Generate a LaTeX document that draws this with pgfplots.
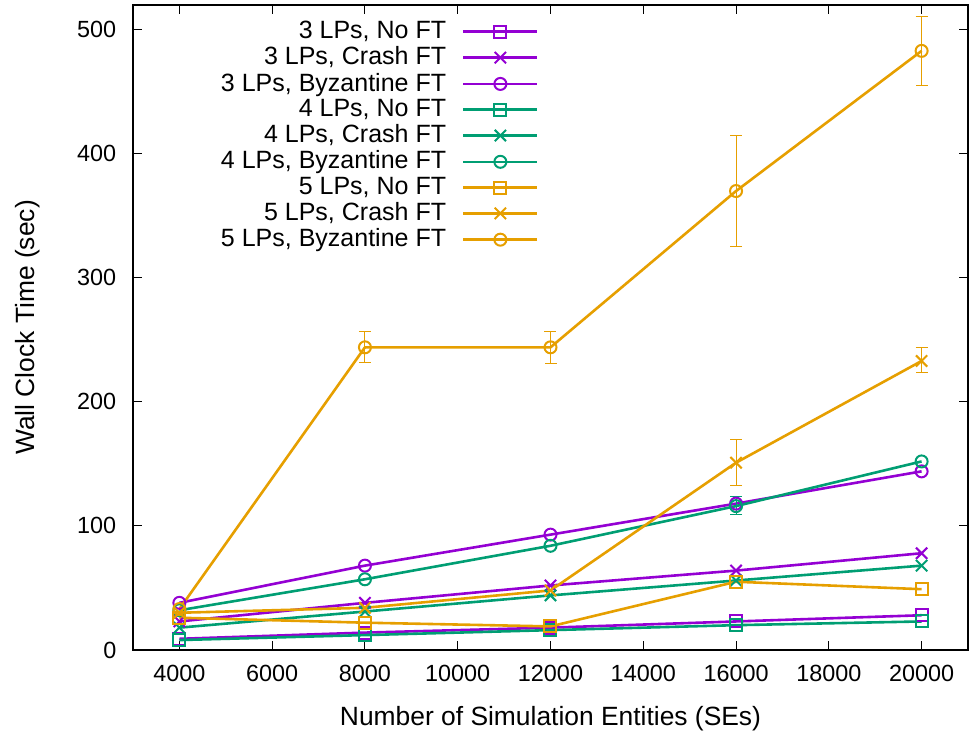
\documentclass[border=0pt]{standalone}
\usepackage{pgfplots}
\pgfplotsset{compat=1.18}
\usepackage{fontspec}
\setmainfont{Liberation Sans}
\definecolor{gpurple}{HTML}{9400D3}
\definecolor{ggreen}{HTML}{009E73}
\definecolor{gorange}{HTML}{E69F00}
\begin{document}
\fontsize{12.5}{15}\selectfont
\begin{tikzpicture}
\begin{axis}[
  scale only axis,
  width=417.5pt, height=322.5pt,
  xmin=3000, xmax=21000, ymin=0, ymax=520,
  xtick={4000,6000,...,20000},
  ytick={0,100,...,500},
  scaled x ticks=false,
  tick align=inside,
  xtick pos=both, ytick pos=both,
  major tick length=4.5pt,
  minor tick num=0,
  axis line style={line width=0.8pt},
  tick style={line width=0.5pt, black},
  /pgf/number format/1000 sep={},
  /pgf/number format/assume math mode=true,
  ticklabel style={font=\fontsize{11.7}{14}\selectfont},
  xticklabel style={yshift=-3pt},
  yticklabel style={xshift=-4pt},
  xlabel={Number of Simulation Entities (SEs)},
  ylabel={Wall Clock Time (sec)},
  label style={font=\fontsize{13.2}{15}\selectfont},
  xlabel style={yshift=-4pt},
  ylabel style={yshift=10pt},
  legend plot pos=right,
  legend cell align=right,
  legend style={draw=none, fill=none, at={(0.4935,0.988)}, anchor=north east,
     row sep=-1.8pt, column sep=6pt, font=\fontsize{12.5}{15}\selectfont},
  legend image code/.code={\draw[mark repeat=2,mark phase=2] plot coordinates {(0cm,0cm)(0.65cm,0cm)(1.3cm,0cm)};},
  every axis plot/.append style={line width=1.3pt, mark options={solid, line width=1pt, fill=none}, mark size=3pt},
  error bars/y dir=both, error bars/y explicit,
  error bars/error bar style={line width=0.5pt},
  error bars/error mark options={line width=0.5pt, mark size=3pt, rotate=90},
]
\addplot[gpurple, mark=square] coordinates {(4000,9)(8000,14)(12000,18)(16000,23)(20000,28)};
\addlegendentry{3 LPs, No FT}
\addplot[gpurple, mark=x, mark size=4pt] coordinates {(4000,23)(8000,38)(12000,52)(16000,64)(20000,78)};
\addlegendentry{3 LPs, Crash FT}
\addplot[gpurple, mark=o] coordinates {(4000,38)(8000,68)(12000,93)(16000,118)(20000,144)};
\addlegendentry{3 LPs, Byzantine FT}
\addplot[ggreen, mark=square] coordinates {(4000,8)(8000,12)(12000,16)(16000,20)(20000,23)};
\addlegendentry{4 LPs, No FT}
\addplot[ggreen, mark=x, mark size=4pt] coordinates {(4000,18)(8000,31)(12000,44)(16000,56)(20000,68)};
\addlegendentry{4 LPs, Crash FT}
\addplot[ggreen, mark=o] coordinates {(4000,32)(8000,57)(12000,84)(16000,116) += (0,8) -= (0,7) (20000,152)};
\addlegendentry{4 LPs, Byzantine FT}
\addplot[gorange, mark=square] coordinates {(4000,26)(8000,22)(12000,19)(16000,55)(20000,49)};
\addlegendentry{5 LPs, No FT}
\addplot[gorange, mark=x, mark size=4pt] coordinates {(4000,30)(8000,34)(12000,48)(16000,151) += (0,19) -= (0,18) (20000,233) += (0,11) -= (0,9)};
\addlegendentry{5 LPs, Crash FT}
\addplot[gorange, mark=o] coordinates {(4000,33)(8000,244) += (0,13) -= (0,12) (12000,244) += (0,13) -= (0,13) (16000,370) += (0,45) -= (0,45) (20000,483) += (0,28) -= (0,28)};
\addlegendentry{5 LPs, Byzantine FT}
\end{axis}
\pgfresetboundingbox
\path ([shift={(-66.5pt,-42pt)}]current axis.south west) rectangle ([shift={(1.5pt,2.5pt)}]current axis.north east);
\end{tikzpicture}
\end{document}
